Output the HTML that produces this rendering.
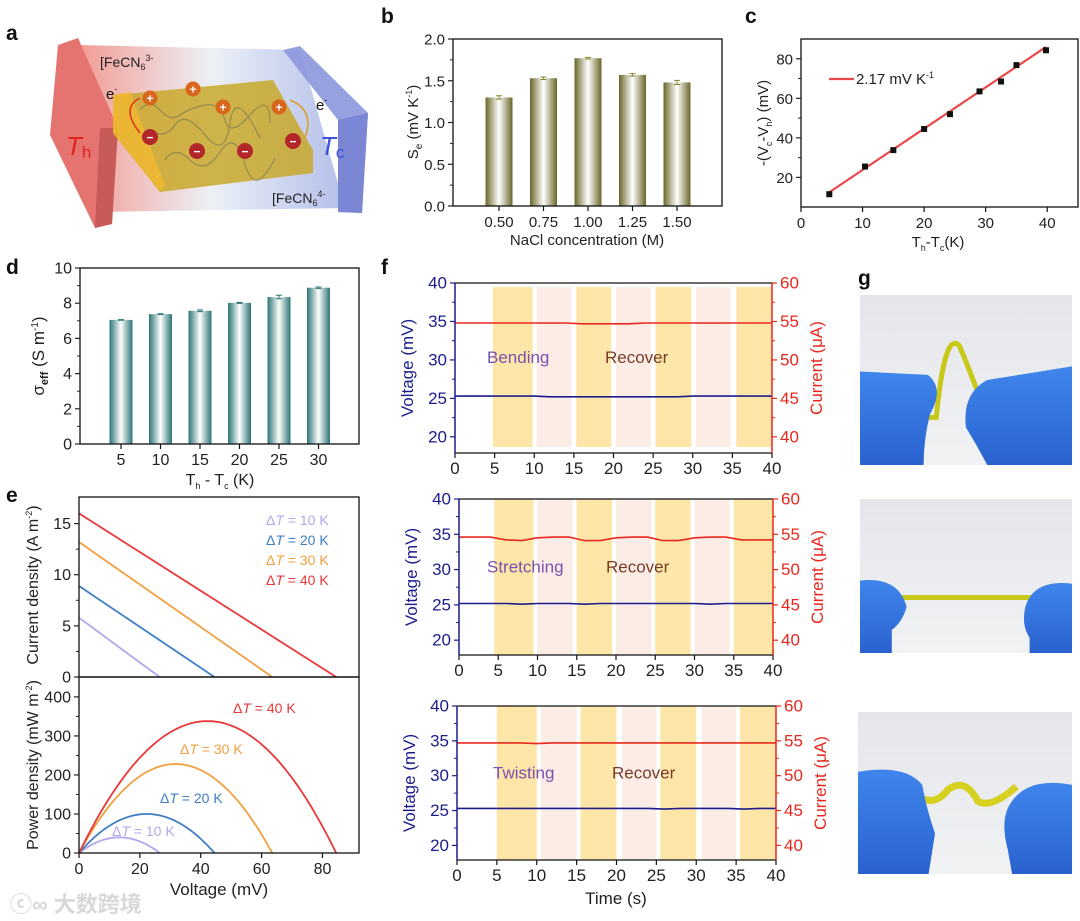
<!DOCTYPE html>
<html><head><meta charset="utf-8">
<style>
html,body{margin:0;padding:0;background:#fff;}
svg{display:block;font-family:"Liberation Sans",Arial,sans-serif;}
</style></head>
<body>
<svg id="fig" width="1080" height="921" viewBox="0 0 1080 921" xmlns="http://www.w3.org/2000/svg">
<defs>
<linearGradient id="gOlive" x1="0" x2="1" y1="0" y2="0"><stop offset="0" stop-color="#6b6628"/><stop offset="0.5" stop-color="#ffffff"/><stop offset="1" stop-color="#6b6628"/></linearGradient>
<linearGradient id="gTeal" x1="0" x2="1" y1="0" y2="0"><stop offset="0" stop-color="#2b7574"/><stop offset="0.5" stop-color="#ffffff"/><stop offset="1" stop-color="#2b7574"/></linearGradient>
<linearGradient id="gTrough" x1="0" x2="1" y1="0" y2="0"><stop offset="0" stop-color="#f08a80"/><stop offset="0.5" stop-color="#e9eef5"/><stop offset="1" stop-color="#a6b3e6"/></linearGradient>
<linearGradient id="gPhoto" x1="0" x2="0" y1="0" y2="1"><stop offset="0" stop-color="#e4e6ea"/><stop offset="1" stop-color="#f1f2f4"/></linearGradient>
<linearGradient id="gGlove" x1="0" x2="0" y1="0" y2="1"><stop offset="0" stop-color="#3f86ec"/><stop offset="1" stop-color="#2a62cf"/></linearGradient>
</defs>

<g font-weight="bold" font-size="21" fill="#111">
<text x="6" y="40">a</text>
<text x="381" y="23">b</text>
<text x="745" y="23">c</text>
<text x="6" y="274">d</text>
<text x="6" y="502">e</text>
<text x="381" y="274">f</text>
<text x="858" y="285">g</text>
</g>

<g id="schematic">
<polygon points="78,45 300,50 345,208 100,212" fill="url(#gTrough)" opacity="0.85"/>
<polygon points="283,50 300,46 368,113 362,213 338,212 338,120" fill="#8d97dc" opacity="0.9"/>
<polygon points="338,120 368,113 362,213 338,212" fill="#7b86d4"/>
<polygon points="58,45 78,38 118,128 112,224 95,228 50,135" fill="#e57470"/>
<polygon points="100,128 118,128 112,224 95,228" fill="#c85a58"/>
<polygon points="115,95 273,80 313,150 313,173 160,192 113,133" fill="#c9a82a" opacity="0.85"/>
<polygon points="113,95 130,92 165,185 160,192 113,133" fill="#f0b830" opacity="0.8"/>
<path d="M140,110 q10,-12 20,0 t20,5 t25,-10 t20,15 t25,-5 t20,8 M150,130 q15,10 25,-5 t30,10 t25,-12 t30,15 M165,160 q10,-15 25,0 t30,-8 t25,12 t30,-6" fill="none" stroke="#7a7a55" stroke-width="1.2" opacity="0.7"/>
<g font-size="12" font-weight="bold" fill="#fff" text-anchor="middle">
<circle cx="150" cy="98" r="7.5" fill="#d8661c"/><text x="150" y="102.5">+</text>
<circle cx="193" cy="89" r="7.5" fill="#d8661c"/><text x="193" y="93.5">+</text>
<circle cx="223" cy="107" r="7.5" fill="#d8661c"/><text x="223" y="111.5">+</text>
<circle cx="279" cy="107" r="7.5" fill="#d8661c"/><text x="279" y="111.5">+</text>
<circle cx="150" cy="137" r="8" fill="#b3262a"/><text x="150" y="141.5">−</text>
<circle cx="197" cy="151" r="8" fill="#b3262a"/><text x="197" y="155.5">−</text>
<circle cx="245" cy="151" r="8" fill="#b3262a"/><text x="245" y="155.5">−</text>
<circle cx="293" cy="141" r="8" fill="#b3262a"/><text x="293" y="145.5">−</text>
</g>
<path d="M140,133 q-20,-25 0,-35" fill="none" stroke="#e0301c" stroke-width="1.5"/>
<path d="M290,100 q25,10 15,38" fill="none" stroke="#d9a020" stroke-width="1.5"/>
<text x="100" y="67" font-size="14" fill="#222">[FeCN<tspan font-size="9" dy="3">6</tspan><tspan dy="-9" font-size="9">3-</tspan></text>
<text x="106" y="99" font-size="15" fill="#111">e<tspan font-size="9" dy="-7">-</tspan></text>
<text x="316" y="110" font-size="15" fill="#111">e<tspan font-size="9" dy="-7">-</tspan></text>
<text x="66" y="155" font-size="26" fill="#e5211d" font-style="italic">T<tspan font-size="17" font-style="normal" dy="3">h</tspan></text>
<text x="320" y="155" font-size="26" fill="#3b4fe0" font-style="italic">T<tspan font-size="17" font-style="normal" dy="3">c</tspan></text>
<text x="272" y="203" font-size="14" fill="#222">[FeCN<tspan font-size="9" dy="3">6</tspan><tspan dy="-9" font-size="9">4-</tspan></text>
</g>

<g font-size="15" fill="#222">
<text transform="translate(418,122) rotate(-90)" text-anchor="middle">S<tspan font-size="10" dy="4">e</tspan><tspan dy="-4"> (mV K</tspan><tspan font-size="9" dy="-6">-1</tspan><tspan dy="6">)</tspan></text>
<text x="587" y="245" text-anchor="middle">NaCl concentration (M)</text>
<text transform="translate(768,123) rotate(-90)" text-anchor="middle">-(V<tspan font-size="9" dy="4">c</tspan><tspan dy="-4">-V</tspan><tspan font-size="9" dy="4">h</tspan><tspan dy="-4">) (mV)</tspan></text>
<text x="938" y="247" text-anchor="middle">T<tspan font-size="9" dy="4">h</tspan><tspan dy="-4">-T</tspan><tspan font-size="9" dy="4">c</tspan><tspan dy="-4">(K)</tspan></text>
<text transform="translate(44,356) rotate(-90)" text-anchor="middle" font-size="17">σ<tspan font-size="11" font-weight="bold" dy="4">eff</tspan><tspan dy="-4"> (S m</tspan><tspan font-size="10" dy="-6">-1</tspan><tspan dy="6">)</tspan></text>
<text x="220" y="485" text-anchor="middle" font-size="16">T<tspan font-size="9" dy="4">h</tspan><tspan dy="-4"> - T</tspan><tspan font-size="9" dy="4">c</tspan><tspan dy="-4"> (K)</tspan></text>
<text transform="translate(38,585) rotate(-90)" text-anchor="middle" font-size="16">Current density (A m<tspan font-size="9" dy="-6">-2</tspan><tspan dy="6">)</tspan></text>
<text transform="translate(38,765) rotate(-90)" text-anchor="middle" font-size="16">Power density (mW m<tspan font-size="9" dy="-6">-2</tspan><tspan dy="6">)</tspan></text>
<text x="219" y="895" text-anchor="middle" font-size="17">Voltage (mV)</text>
<text x="616" y="904" text-anchor="middle" font-size="17">Time (s)</text>
</g>
<text x="10" y="912" font-size="22" fill="#d8d8d8" font-family="'Liberation Sans','Noto Sans CJK SC',sans-serif" font-weight="bold">ⓒ∞ 大数跨境</text>
</svg>

<script>
// ---- data ----
const bCats = ["0.50","0.75","1.00","1.25","1.50"];
const bVals = [1.30,1.53,1.77,1.57,1.48];
const bErr = [0.02,0.015,0.01,0.015,0.025];
const cX = [4.6,10.4,15,20,24.2,29,32.5,35,39.8];
const cY = [11.5,25.5,33.8,44.5,52,63.5,68.5,76.8,84.3];
const cFitX = [4.6,39.8];
const cFitY = [12.5,86];
const dCats = ["5","10","15","20","25","30"];
const dVals = [7.05,7.38,7.57,8.02,8.35,8.88];
const dErr = [0.02,0.02,0.05,0.03,0.1,0.04];
const eLabels = ["10","20","30","40"];
const eJ0 = [5.8,8.9,13.2,16.0];
const eVoc = [26.5,44.5,63.5,84.5];
const ePeak = [40,100,228,338];
const eColors = ["#b3a6ee","#3f7fc6","#f2a040","#e8383a"];
const fTime = [0,2,4,6,8,10,12,14,16,18,20,22,24,26,28,30,32,34,36,38,40];
const f1Volt = [25.3,25.3,25.3,25.3,25.3,25.3,25.2,25.2,25.2,25.2,25.2,25.2,25.2,25.2,25.2,25.3,25.3,25.3,25.3,25.3,25.3];
const f1Curr = [54.8,54.8,54.8,54.8,54.8,54.8,54.8,54.8,54.7,54.7,54.7,54.7,54.8,54.8,54.8,54.8,54.8,54.8,54.8,54.8,54.8];
const f2Volt = [25.2,25.2,25.2,25.2,25.1,25.2,25.2,25.2,25.1,25.2,25.2,25.2,25.2,25.2,25.2,25.2,25.1,25.2,25.2,25.2,25.2];
const f2Curr = [54.6,54.6,54.6,54.2,54.1,54.5,54.6,54.6,54.1,54.1,54.5,54.6,54.6,54.1,54.1,54.5,54.6,54.6,54.2,54.2,54.2];
const f3Volt = [25.3,25.3,25.3,25.3,25.3,25.3,25.3,25.3,25.3,25.3,25.3,25.3,25.3,25.2,25.3,25.3,25.3,25.3,25.2,25.3,25.3];
const f3Curr = [54.7,54.7,54.7,54.7,54.7,54.6,54.7,54.7,54.7,54.7,54.7,54.7,54.7,54.7,54.7,54.7,54.7,54.7,54.7,54.7,54.7];
const f1Bands = [[4.8,9.8],[10.3,14.7],[15.3,19.7],[20.3,24.7],[25.3,29.8],[30.4,34.8],[35.5,40]];
const f2Bands = [[4.5,9.5],[10,14.5],[15,19.5],[20,24.5],[25,29.5],[30,34.5],[35,40]];
const f3Bands = [[5,10],[10.5,15],[15.5,20],[20.7,25],[25.5,30],[30.7,35],[35.5,40]];
const fTicksX = [0,5,10,15,20,25,30,35,40];
const fTicksL = [20,25,30,35,40];
const fTicksR = [40,45,50,55,60];

// ---- helpers ----
const NS = "http://www.w3.org/2000/svg";
const svg = document.getElementById("fig");
function el(tag, attrs, parent){
  const e = document.createElementNS(NS, tag);
  for (const k in attrs) e.setAttribute(k, attrs[k]);
  (parent || svg).appendChild(e);
  return e;
}
function lin(d0,d1,r0,r1){ return v => r0 + (v-d0)*(r1-r0)/(d1-d0); }
function text(x,y,s,size,fill,anchor,parent){
  const t = el("text",{x:x,y:y,"font-size":size,fill:fill||"#222","text-anchor":anchor||"middle"},parent);
  t.textContent = s;
  return t;
}
function box(L,T,R,B,name,color){
  const r = el("rect",{x:L,y:T,width:R-L,height:B-T,fill:"none",stroke:color||"#111","stroke-width":1.3});
  
  
}
function yTicks(sc, x, vals, labels, dir, color, size, name){
  const g = el("g",{});
  
  
  vals.forEach((v,i)=>{
    el("line",{x1:x,x2:x+dir*5,y1:sc(v),y2:sc(v),stroke:color,"stroke-width":1.2},g);
    if (i < vals.length-1){
      const m = (v + vals[i+1])/2;
      el("line",{x1:x,x2:x+dir*3,y1:sc(m),y2:sc(m),stroke:color,"stroke-width":1},g);
    }
    const t = text(x+dir*8, sc(v)+5.5, labels[i], size, color, dir<0?"end":"start", g);
    
    
  });
}
function xTicks(sc, y, vals, labels, size, name, color){
  const g = el("g",{});
  
  
  vals.forEach((v,i)=>{
    el("line",{x1:sc(v),x2:sc(v),y1:y,y2:y+5,stroke:color||"#111","stroke-width":1.2},g);
    if (labels){
      const t = text(sc(v), y+21, labels[i], size, color||"#222", "middle", g);
      
      
    }
  });
}

// ---- panel b ----
(function(){
  const L=453,R=722,T=39,B=206;
  const y = lin(0,2,B,T);
  const x = i => 499 + 44.5*i;
  bVals.forEach((v,i)=>{
    const r = el("rect",{x:x(i)-13.5,y:y(v),width:27,height:B-y(v),fill:"url(#gOlive)"});
    
    
    const e = el("path",{d:`M${x(i)-3},${y(v+bErr[i])}h6M${x(i)},${y(v+bErr[i])}V${y(v-bErr[i])}M${x(i)-3},${y(v-bErr[i])}h6`,stroke:"#8a8530","stroke-width":1,fill:"none"});
    
    
  });
  box(L,T,R,B,"b-plot-frame");
  yTicks(y, L, [0,0.5,1,1.5,2], ["0.0","0.5","1.0","1.5","2.0"], -1, "#222", 15, "b-y-ticks");
  xTicks(i=>x(i), B, [0,1,2,3,4], bCats, 15, "b-x-ticks");
})();

// ---- panel c ----
(function(){
  const L=801,R=1078,T=39,B=207;
  const x = lin(0,45,L,R), y = lin(5.04,90,B,T);
  const f = el("line",{x1:x(cFitX[0]),y1:y(cFitY[0]),x2:x(cFitX[1]),y2:y(cFitY[1]),stroke:"#e8484a","stroke-width":2.2});
  
  
  cX.forEach((v,i)=>{
    const p = el("rect",{x:x(v)-3,y:y(cY[i])-3,width:6,height:6,fill:"#111"});
    
    
  });
  box(L,T,R,B,"c-plot-frame");
  yTicks(y, L, [20,40,60,80], ["20","40","60","80"], -1, "#222", 15, "c-y-ticks");
  xTicks(x, B, [0,10,20,30,40], ["0","10","20","30","40"], 15, "c-x-ticks");
  const lg = el("line",{x1:829,x2:854,y1:79,y2:79,stroke:"#e8484a","stroke-width":2.2});
  
  
  const lt = el("text",{x:856,y:84,"font-size":15,fill:"#222"});
  lt.innerHTML = '2.17 mV K<tspan font-size="9" dy="-6">-1</tspan>';
  
  
})();

// ---- panel d ----
(function(){
  const L=80,R=359,T=268,B=444;
  const y = lin(0,10,B,T);
  const x = i => 121 + 39.5*i;
  dVals.forEach((v,i)=>{
    const r = el("rect",{x:x(i)-11.5,y:y(v),width:23,height:B-y(v),fill:"url(#gTeal)"});
    
    
    const e = el("path",{d:`M${x(i)-3},${y(v+dErr[i])}h6M${x(i)},${y(v+dErr[i])}V${y(v-dErr[i])}M${x(i)-3},${y(v-dErr[i])}h6`,stroke:"#2b7574","stroke-width":1,fill:"none"});
    
    
  });
  box(L,T,R,B,"d-plot-frame");
  yTicks(y, L, [0,2,4,6,8,10], ["0","2","4","6","8","10"], -1, "#222", 16, "d-y-ticks");
  xTicks(i=>x(i), B, [0,1,2,3,4,5], dCats, 16, "d-x-ticks");
})();

// ---- panel e ----
(function(){
  const L=79,R=359,T1=497,M=677,B=853;
  const x = lin(0,92,L,R);
  const yJ = lin(0,17.6,M,T1), yP = lin(0,451,B,M);
  eJ0.forEach((j,i)=>{
    const ln = el("line",{x1:x(0),y1:yJ(j),x2:x(eVoc[i]),y2:yJ(0),stroke:eColors[i],"stroke-width":1.8});
    
    
    let d = "";
    for (let k=0;k<=60;k++){
      const v = eVoc[i]*k/60;
      const p = ePeak[i]*4*(v/eVoc[i])*(1-v/eVoc[i]);
      d += (k?"L":"M") + x(v).toFixed(1) + "," + yP(p).toFixed(1);
    }
    const pc = el("path",{d:d,fill:"none",stroke:eColors[i],"stroke-width":1.8});
    
    
  });
  box(L,T1,R,M,"e-current-frame");
  box(L,M,R,B,"e-power-frame");
  yTicks(yJ, L, [0,5,10,15], ["0","5","10","15"], -1, "#222", 16, "e-current-y-ticks");
  yTicks(yP, L, [0,100,200,300,400], ["0","100","200","300","400"], -1, "#222", 16, "e-power-y-ticks");
  xTicks(x, B, [0,20,40,60,80], ["0","20","40","60","80"], 16, "e-x-ticks");
  const legY = [525,545,565,585];
  eLabels.forEach((s,i)=>{
    const t = el("text",{x:266,y:legY[i],"font-size":14,fill:eColors[i]});
    t.innerHTML = 'Δ<tspan font-style="italic">T</tspan> = ' + s + ' K';
    
    
  });
  const lab = [[112,836],[160,803],[180,754],[233,713]];
  eLabels.forEach((s,i)=>{
    const t = el("text",{x:lab[i][0],y:lab[i][1],"font-size":14,fill:eColors[i]});
    t.innerHTML = 'Δ<tspan font-style="italic">T</tspan> = ' + s + ' K';
    
    
  });
})();

// ---- panel f ----
function fPanel(L,R,T,B,bandT,bandB,bands,volt,curr,word,wordX,recX,name){
  const x = lin(0,40,L,R);
  const yL = lin(40,20,T,T+(B-T)*20/22.1);
  const yR = v => yL(v-20);
  bands.forEach((b,i)=>{
    const r = el("rect",{x:x(b[0]),y:bandT,width:x(b[1])-x(b[0]),height:bandB-bandT,fill:i%2===0?"#fde6a8":"#fbede6"});
    
    
  });
  const mk = (arr, sc, color, nm) => {
    const d = arr.map((v,i)=>(i?"L":"M")+x(fTime[i]).toFixed(1)+","+sc(v).toFixed(1)).join("");
    const p = el("path",{d:d,fill:"none",stroke:color,"stroke-width":1.6});
    
    
  };
  mk(curr, yR, "#e8281e", name + "-current-line");
  mk(volt, yL, "#1c1c8c", name + "-voltage-line");
  const w = text(wordX, yL(29.6), word, 17, "#7a50b0", "start");
  
  
  const rc = text(recX, yL(29.6), "Recover", 17, "#7a3a28", "start");
  
  
  el("line",{x1:L,x2:R,y1:T,y2:T,stroke:"#111","stroke-width":1.3});
  el("line",{x1:L,x2:R,y1:B,y2:B,stroke:"#111","stroke-width":1.3});
  el("line",{x1:L,x2:L,y1:T,y2:B,stroke:"#1c1c8c","stroke-width":1.5});
  el("line",{x1:R,x2:R,y1:T,y2:B,stroke:"#e8281e","stroke-width":1.5});
  yTicks(yL, L, fTicksL, fTicksL.map(String), -1, "#1c1c8c", 17, name + "-voltage-ticks");
  yTicks(yR, R, fTicksR, fTicksR.map(String), 1, "#e8281e", 17, name + "-current-ticks");
  xTicks(x, B, fTicksX, fTicksX.map(String), 17, name + "-x-ticks");
  const vt = el("text",{transform:`translate(${L-42},${(T+B)/2}) rotate(-90)`,"font-size":17,fill:"#1c1c8c","text-anchor":"middle"});
  vt.textContent = "Voltage (mV)";
  
  
  const ct = el("text",{transform:`translate(${R+50},${(T+B)/2}) rotate(-90)`,"font-size":17,fill:"#e8281e","text-anchor":"middle"});
  ct.textContent = "Current (μA)";
  
  
}
fPanel(455,772,283,453,287,447,f1Bands,f1Volt,f1Curr,"Bending",487,605,"f-bending");
fPanel(459,773,499,655,499,655,f2Bands,f2Volt,f2Curr,"Stretching",487,606,"f-stretching");
fPanel(457,776,706,860,706,860,f3Bands,f3Volt,f3Curr,"Twisting",493,612,"f-twisting");

// ---- panel g photos ----
function photo(X,Y,W,H,name,kind){
  const g = el("g",{});
  
  
  el("rect",{x:X,y:Y,width:W,height:H,fill:"url(#gPhoto)"},g);
  const P = (fx,fy)=> (X+fx*W).toFixed(1)+","+(Y+fy*H).toFixed(1);
  const glove = "url(#gGlove)";
  if (kind===0){
    el("path",{d:`M${P(0.2,0.72)} L${P(0.36,0.72)} Q${P(0.4,0.2)} ${P(0.47,0.3)} Q${P(0.52,0.45)} ${P(0.6,0.72)} L${P(0.75,0.72)}`,fill:"none",stroke:"#c8c818","stroke-width":5},g);
    el("path",{d:`M${P(0,0.45)} L${P(0.32,0.47)} Q${P(0.4,0.55)} ${P(0.33,0.7)} Q${P(0.3,0.85)} ${P(0.3,1)} L${P(0,1)} Z`,fill:glove},g);
    el("path",{d:`M${P(1,0.42)} L${P(0.6,0.5)} Q${P(0.48,0.58)} ${P(0.5,0.78)} Q${P(0.55,0.88)} ${P(0.6,1)} L${P(1,1)} Z`,fill:glove},g);
  } else if (kind===1){
    el("line",{x1:X+0.14*W,x2:X+0.84*W,y1:Y+0.64*H,y2:Y+0.64*H,stroke:"#c8c818","stroke-width":5},g);
    el("path",{d:`M${P(0,0.53)} Q${P(0.18,0.5)} ${P(0.22,0.7)} Q${P(0.2,0.8)} ${P(0.15,0.85)} L${P(0.15,1)} L${P(0,1)} Z`,fill:glove},g);
    el("path",{d:`M${P(1,0.55)} Q${P(0.82,0.52)} ${P(0.78,0.7)} Q${P(0.76,0.82)} ${P(0.8,0.9)} L${P(0.8,1)} L${P(1,1)} Z`,fill:glove},g);
  } else {
    el("path",{d:`M${P(0.26,0.5)} Q${P(0.35,0.6)} ${P(0.42,0.48)} Q${P(0.5,0.4)} ${P(0.56,0.55)} Q${P(0.62,0.6)} ${P(0.74,0.46)}`,fill:"none",stroke:"#d6d020","stroke-width":7},g);
    el("path",{d:`M${P(0,0.37)} Q${P(0.22,0.32)} ${P(0.3,0.45)} Q${P(0.32,0.6)} ${P(0.36,0.75)} L${P(0.33,1)} L${P(0,1)} Z`,fill:glove},g);
    el("path",{d:`M${P(1,0.45)} Q${P(0.8,0.4)} ${P(0.72,0.55)} Q${P(0.66,0.65)} ${P(0.7,0.85)} L${P(0.72,1)} L${P(1,1)} Z`,fill:glove},g);
  }
}
photo(860,295,212,170,"photo-bending",0);
photo(860,499,212,154,"photo-stretching",1);
photo(858,712,214,162,"photo-twisting",2);
</script>
</body></html>
